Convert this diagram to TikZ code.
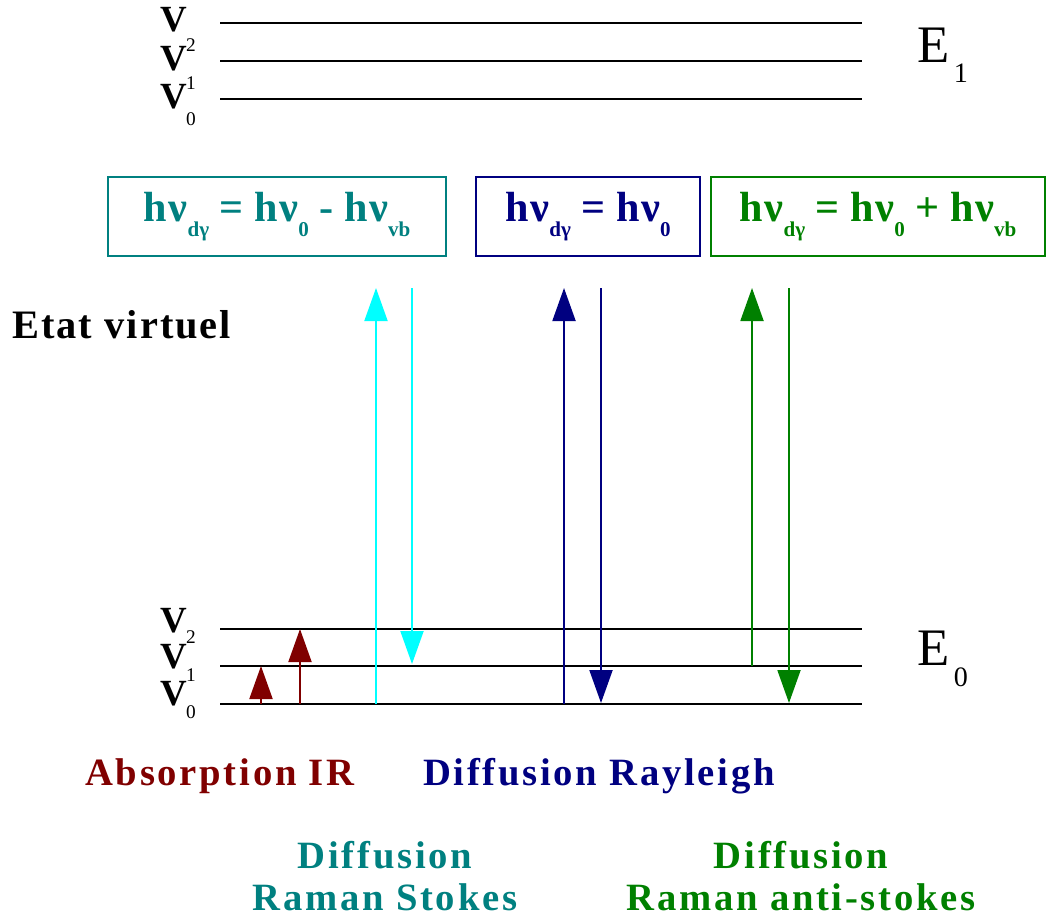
\documentclass[tikz,border=0pt]{standalone}
\usepackage{fontspec}
\setmainfont{Liberation Serif}
\usetikzlibrary{arrows.meta}
\definecolor{stokes}{RGB}{0,128,128}
\definecolor{rayleigh}{RGB}{0,0,128}
\definecolor{antistokes}{RGB}{0,128,0}
\definecolor{stokesray}{RGB}{0,255,255}
\definecolor{absorb}{RGB}{128,0,0}
\newcommand{\lowsub}[1]{\raisebox{-0.75ex}{\fontsize{12}{12}\selectfont #1}}
\tikzset{
  level/.style={line width=1.1pt},
  trans/.style={line width=1.1pt,-{Triangle[length=0.66cm,width=0.46cm]}},
  vlab/.style={font=\fontsize{21}{21}\selectfont\bfseries,inner sep=0pt},
  vsub/.style={font=\fontsize{11}{11}\selectfont,inner sep=0pt},
  elab/.style={font=\fontsize{30}{30}\selectfont,inner sep=0pt},
  esub/.style={font=\fontsize{16}{16}\selectfont,inner sep=0pt},
  formula/.style={line width=1.1pt,minimum height=1.58cm,inner sep=0pt,
    font=\fontsize{24}{24}\selectfont\bfseries},
  caption/.style={font=\fontsize{22}{24}\selectfont\bfseries\addfontfeature{LetterSpace=7},
    align=center,inner sep=0pt}
}
\begin{document}
\begin{tikzpicture}[x=0.02cm,y=-0.02cm]
  \useasboundingbox (0,0) rectangle (1047,917);
  % niveaux vibrationnels
  \foreach \y/\n in {23/u2,61/u1,99/u0,629/l2,666/l1,704/l0}{
    \coordinate (\n w) at (220,\y);
    \coordinate (\n e) at (862,\y);
    \draw[level] (\n w) -- (\n e);
  }
  \foreach \y/\s/\k in {20/45/2,59/83/1,97/119/0,621/637/2,657/675/1,694/712/0}{
    \node[vlab] at (174,\y) {V};
    \node[vsub] at (191,\s) {\k};
  }
  \node[elab] (e1) at (934,45) {E};
  \node[esub] at (961,73) {1};
  \node[elab] (e0) at (934,648) {E};
  \node[esub] at (961,677) {0};
  % formules
  \node[formula,draw=stokes,text=stokes,minimum width=6.76cm] (fs) at (277,216.5)
    {h\kern1ptν\lowsub{dγ} = h\kern1ptν\lowsub{0} - h\kern1ptν\lowsub{vb}};
  \node[formula,draw=rayleigh,text=rayleigh,minimum width=4.48cm] (fr) at (588,216.5)
    {h\kern1ptν\lowsub{dγ} = h\kern1ptν\lowsub{0}\hspace{0.6em}};
  \node[formula,draw=antistokes,text=antistokes,minimum width=6.68cm] (fa) at (878,216.5)
    {h\kern1ptν\lowsub{dγ} = h\kern1ptν\lowsub{0} + h\kern1ptν\lowsub{vb}};
  \node[font=\fontsize{23}{23}\selectfont\bfseries\addfontfeature{LetterSpace=5},
    anchor=west,inner sep=0pt] (ev) at (12,325) {Etat virtuel};
  % transitions
  \coordinate (ir1a) at (261,704); \coordinate (ir1b) at (261,666);
  \coordinate (ir2a) at (300,704); \coordinate (ir2b) at (300,629);
  \coordinate (sua) at (376,704); \coordinate (sub) at (376,288);
  \coordinate (sda) at (412,288); \coordinate (sdb) at (412,664);
  \coordinate (rua) at (564,704); \coordinate (rub) at (564,288);
  \coordinate (rda) at (601,288); \coordinate (rdb) at (601,703);
  \coordinate (aua) at (752,666); \coordinate (aub) at (752,288);
  \coordinate (ada) at (789,288); \coordinate (adb) at (789,703);
  \draw[trans,absorb] (ir1a) -- (ir1b);
  \draw[trans,absorb] (ir2a) -- (ir2b);
  \draw[trans,stokesray] (sua) -- (sub);
  \draw[trans,stokesray] (sda) -- (sdb);
  \draw[trans,rayleigh] (rua) -- (rub);
  \draw[trans,rayleigh] (rda) -- (rdb);
  \draw[trans,antistokes] (aua) -- (aub);
  \draw[trans,antistokes] (ada) -- (adb);
  % legendes
  \node[caption,text=absorb] (cir) at (220,776) {Absorption IR};
  \node[caption,text=rayleigh] (cr) at (599,776) {Diffusion Rayleigh};
  \node[caption,text=stokes] (cs) at (385,876) {Diffusion\\Raman Stokes};
  \node[caption,text=antistokes] (ca) at (801,876) {Diffusion\\Raman anti-stokes};
\end{tikzpicture}
\end{document}
